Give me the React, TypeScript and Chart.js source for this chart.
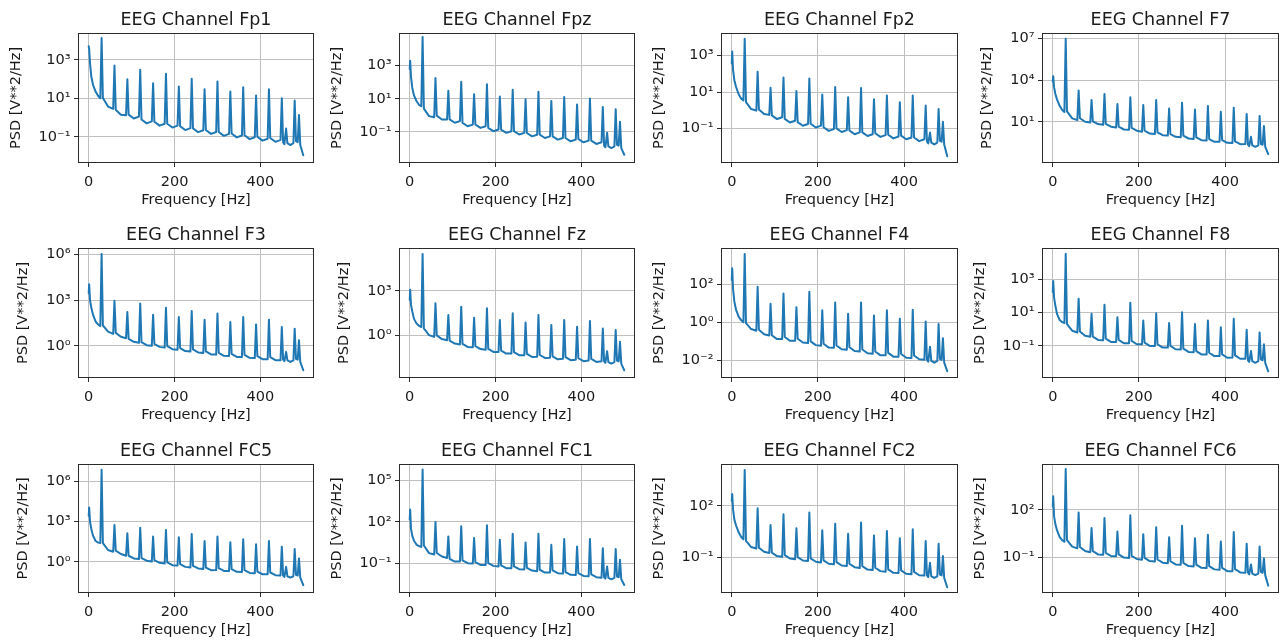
import React, { useEffect, useRef } from 'react';
import { Chart, registerables } from 'chart.js';

Chart.register(...registerables);

// ---------------- data (values are log10 of PSD) ----------------
const CHANNELS = ['Fp1', 'Fpz', 'Fp2', 'F7', 'F3', 'Fz', 'F4', 'F8', 'FC5', 'FC1', 'FC2', 'FC6'];

// frequencies of the line-noise harmonics (spike tops)
const PEAK_HZ = [30, 60, 90, 120, 150, 180, 210, 240, 270, 300, 330, 360, 390, 420, 450, 460, 480, 490];
// frequencies of the background (head decay, spike feet / troughs, tail)
const FLOOR_HZ = [
  0, 1, 3, 6, 10, 16, 22, 27,
  33, 45, 57, 63, 75, 87, 93, 105, 117, 123, 135, 147, 153, 165, 177, 183, 195, 207, 213, 225, 237,
  243, 255, 267, 273, 285, 297, 303, 315, 327, 333, 345, 357, 363, 375, 387, 393, 405, 417, 423, 435, 447,
  453, 456, 463, 470, 477, 483, 487, 493, 500,
];
const X_TICKS = [0, 200, 400];

const fp1Peak = [4.13, 2.70, 1.99, 2.48, 1.78, 2.27, 1.61, 2.01, 1.47, 1.87, 1.35, 1.57, 1.14, 1.47, 1.00, -0.57, 0.88, 0.13];
const fp1Floor = [
  3.70, 3.55, 2.83, 2.13, 1.70, 1.35, 1.12, 1.00,
  1.02, 0.57, 0.45, 0.40, 0.15, 0.12, 0.15, -0.05, 0.05, -0.10, -0.30, -0.20, -0.22, -0.42, -0.32, -0.32, -0.52, -0.42, -0.45, -0.65, -0.55,
  -0.56, -0.76, -0.66, -0.65, -0.85, -0.75, -0.75, -0.95, -0.85, -0.83, -1.03, -0.93, -0.92, -1.12, -1.02, -1.00, -1.20, -1.10, -1.06, -1.26, -1.16,
  -1.28, -1.38, -1.33, -1.43, -1.33, -1.23, -1.28, -1.43, -1.96,
];
const fpzPeak = [4.73, 2.25, 1.48, 2.03, 1.27, 1.88, 1.13, 1.54, 0.97, 1.42, 0.87, 1.11, 0.66, 1.01, 0.50, -1.06, 0.36, -0.39];
const fpzFloor = [
  2.80, 3.30, 2.30, 1.65, 1.20, 0.85, 0.62, 0.55,
  0.40, -0.05, -0.12, -0.02, -0.25, -0.25, -0.25, -0.45, -0.35, -0.46, -0.66, -0.56, -0.56, -0.76, -0.66, -0.76, -0.96, -0.86, -0.86, -1.06, -0.96,
  -0.96, -1.16, -1.06, -1.07, -1.27, -1.17, -1.17, -1.37, -1.27, -1.27, -1.47, -1.37, -1.37, -1.57, -1.47, -1.43, -1.63, -1.53, -1.53, -1.73, -1.63,
  -1.83, -1.93, -1.88, -1.98, -1.88, -1.78, -1.83, -1.98, -2.38,
];
const fp2Peak = [3.93, 2.11, 1.24, 1.80, 1.06, 1.74, 0.87, 1.28, 0.72, 1.22, 0.61, 0.81, 0.44, 0.81, 0.26, -1.22, 0.07, -0.63];
const fp2Floor = [
  2.57, 3.22, 2.20, 1.65, 1.28, 0.88, 0.64, 0.54,
  0.45, 0.07, -0.02, 0.05, -0.20, -0.25, -0.28, -0.48, -0.38, -0.47, -0.67, -0.57, -0.65, -0.85, -0.75, -0.74, -0.94, -0.84, -0.93, -1.13, -1.03,
  -0.99, -1.19, -1.09, -1.11, -1.31, -1.21, -1.21, -1.41, -1.31, -1.26, -1.46, -1.36, -1.34, -1.54, -1.44, -1.39, -1.59, -1.49, -1.49, -1.69, -1.59,
  -1.72, -1.82, -1.77, -1.87, -1.77, -1.67, -1.72, -1.87, -2.52,
];
const f7Peak = [7.00, 3.25, 2.57, 3.01, 2.28, 2.77, 2.21, 2.57, 1.96, 2.38, 1.89, 2.14, 1.72, 2.01, 1.56, -0.09, 1.41, 0.69];
const f7Floor = [
  3.90, 4.29, 3.50, 3.00, 2.60, 2.15, 1.85, 1.70,
  1.75, 1.24, 1.12, 1.25, 1.00, 0.95, 1.03, 0.83, 0.78, 0.84, 0.64, 0.58, 0.64, 0.44, 0.42, 0.55, 0.35, 0.28, 0.35, 0.15, 0.12,
  0.23, 0.03, 0.00, 0.11, -0.09, -0.12, -0.01, -0.21, -0.24, -0.13, -0.33, -0.36, -0.25, -0.45, -0.45, -0.32, -0.52, -0.54, -0.42, -0.62, -0.60,
  -0.66, -0.76, -0.71, -0.81, -0.71, -0.61, -0.66, -0.81, -1.34,
];
const f3Peak = [6.04, 2.96, 2.23, 2.78, 2.05, 2.51, 1.90, 2.29, 1.72, 2.12, 1.57, 1.90, 1.41, 1.72, 1.24, -0.40, 1.13, 0.37];
const f3Floor = [
  3.46, 4.06, 3.00, 2.50, 2.05, 1.60, 1.40, 1.30,
  1.35, 0.93, 0.78, 0.85, 0.60, 0.50, 0.46, 0.26, 0.20, 0.24, 0.04, 0.00, 0.13, -0.07, -0.12, -0.02, -0.22, -0.26, -0.15, -0.35, -0.38,
  -0.24, -0.44, -0.48, -0.37, -0.57, -0.58, -0.46, -0.66, -0.67, -0.53, -0.73, -0.74, -0.59, -0.79, -0.81, -0.68, -0.88, -0.89, -0.75, -0.95, -0.95,
  -0.91, -1.01, -0.96, -1.06, -0.96, -0.86, -0.91, -1.06, -1.61,
];
const fzPeak = [5.50, 2.16, 1.36, 1.93, 1.18, 1.82, 1.02, 1.48, 0.86, 1.36, 0.68, 1.02, 0.57, 0.95, 0.45, -1.09, 0.34, -0.45];
const fzFloor = [
  2.39, 3.07, 2.05, 1.60, 1.10, 0.78, 0.62, 0.55,
  0.45, 0.00, -0.12, -0.02, -0.27, -0.35, -0.37, -0.57, -0.63, -0.60, -0.80, -0.82, -0.75, -0.95, -1.00, -0.94, -1.14, -1.14, -1.05, -1.25, -1.25,
  -1.16, -1.36, -1.37, -1.28, -1.48, -1.46, -1.35, -1.55, -1.54, -1.44, -1.64, -1.60, -1.50, -1.70, -1.67, -1.57, -1.77, -1.72, -1.62, -1.82, -1.78,
  -1.78, -1.88, -1.83, -1.93, -1.83, -1.73, -1.78, -1.93, -2.39,
];
const f4Peak = [3.61, 1.88, 0.98, 1.52, 0.80, 1.61, 0.63, 1.04, 0.45, 1.04, 0.36, 0.63, 0.18, 0.66, 0.04, -1.29, -0.09, -0.84];
const f4Floor = [
  2.23, 2.86, 1.75, 1.10, 0.65, 0.30, 0.10, 0.00,
  -0.05, -0.36, -0.45, -0.40, -0.63, -0.70, -0.69, -0.89, -0.88, -0.78, -0.98, -0.98, -0.87, -1.07, -1.10, -1.01, -1.21, -1.24, -1.14, -1.34, -1.35,
  -1.23, -1.43, -1.45, -1.32, -1.52, -1.55, -1.44, -1.64, -1.67, -1.55, -1.75, -1.75, -1.62, -1.82, -1.82, -1.68, -1.88, -1.89, -1.76, -1.96, -1.98,
  -1.99, -2.09, -2.04, -2.14, -2.04, -1.94, -1.99, -2.14, -2.59,
];
const f8Peak = [4.52, 1.83, 0.92, 1.46, 0.72, 1.59, 0.52, 0.96, 0.37, 1.02, 0.31, 0.52, 0.11, 0.62, -0.03, -1.30, -0.19, -0.90];
const f8Floor = [
  2.23, 2.88, 1.90, 1.40, 0.90, 0.55, 0.42, 0.37,
  0.30, -0.09, -0.20, -0.14, -0.39, -0.45, -0.44, -0.64, -0.66, -0.56, -0.76, -0.76, -0.64, -0.84, -0.84, -0.70, -0.90, -0.90, -0.80, -1.00, -1.00,
  -0.90, -1.10, -1.10, -1.00, -1.20, -1.22, -1.16, -1.36, -1.38, -1.31, -1.51, -1.51, -1.41, -1.61, -1.61, -1.51, -1.71, -1.70, -1.57, -1.77, -1.77,
  -1.86, -1.96, -1.91, -2.01, -1.91, -1.81, -1.86, -2.01, -2.52,
];
const fc5Peak = [6.88, 2.75, 2.13, 2.55, 1.88, 2.38, 1.83, 2.08, 1.55, 1.88, 1.45, 1.68, 1.30, 1.55, 1.13, -0.38, 0.95, 0.25];
const fc5Floor = [
  3.43, 4.05, 3.00, 2.45, 1.95, 1.55, 1.43, 1.40,
  1.40, 0.88, 0.75, 0.83, 0.58, 0.45, 0.45, 0.25, 0.20, 0.28, 0.08, 0.02, 0.12, -0.08, -0.13, -0.05, -0.25, -0.28, -0.18, -0.38, -0.42,
  -0.30, -0.50, -0.54, -0.43, -0.63, -0.62, -0.48, -0.68, -0.68, -0.55, -0.75, -0.76, -0.63, -0.83, -0.85, -0.73, -0.93, -0.93, -0.80, -1.00, -1.02,
  -1.03, -1.13, -1.08, -1.18, -1.08, -0.98, -1.03, -1.18, -1.75,
];
const fc1Peak = [5.80, 2.00, 0.96, 1.69, 0.84, 1.76, 0.72, 1.15, 0.52, 1.15, 0.35, 0.77, 0.23, 0.77, 0.11, -1.22, 0.04, -0.73];
const fc1Floor = [
  2.17, 2.90, 1.50, 1.00, 0.65, 0.35, 0.25, 0.20,
  0.30, -0.25, -0.35, -0.24, -0.49, -0.60, -0.66, -0.86, -0.86, -0.78, -0.98, -1.00, -0.90, -1.10, -1.10, -0.97, -1.17, -1.22, -1.14, -1.34, -1.34,
  -1.21, -1.41, -1.43, -1.31, -1.51, -1.55, -1.45, -1.65, -1.65, -1.50, -1.70, -1.73, -1.62, -1.82, -1.83, -1.70, -1.90, -1.92, -1.79, -1.99, -2.02,
  -1.99, -2.09, -2.04, -2.14, -2.04, -1.94, -1.99, -2.14, -2.55,
];
const fc2Peak = [4.10, 1.86, 0.88, 1.51, 0.69, 1.61, 0.57, 0.96, 0.37, 1.02, 0.27, 0.53, 0.10, 0.63, -0.06, -1.33, -0.22, -0.94];
const fc2Floor = [
  2.29, 2.69, 1.80, 1.20, 0.85, 0.45, 0.18, 0.04,
  -0.05, -0.41, -0.50, -0.45, -0.69, -0.76, -0.74, -0.94, -0.98, -0.88, -1.08, -1.12, -1.00, -1.20, -1.22, -1.07, -1.27, -1.31, -1.19, -1.39, -1.42,
  -1.29, -1.49, -1.52, -1.39, -1.59, -1.64, -1.53, -1.73, -1.76, -1.62, -1.82, -1.85, -1.72, -1.92, -1.93, -1.78, -1.98, -2.00, -1.86, -2.06, -2.08,
  -2.07, -2.17, -2.12, -2.22, -2.12, -2.02, -2.07, -2.22, -2.76,
];
const fc6Peak = [4.56, 1.83, 0.85, 1.48, 0.64, 1.65, 0.47, 0.91, 0.28, 0.99, 0.22, 0.43, 0.01, 0.60, -0.14, -1.43, -0.31, -1.04];
const fc6Floor = [
  2.21, 2.84, 1.60, 1.10, 0.70, 0.28, 0.08, 0.00,
  0.10, -0.31, -0.42, -0.34, -0.59, -0.66, -0.60, -0.80, -0.82, -0.70, -0.90, -0.92, -0.80, -1.00, -1.02, -0.89, -1.09, -1.13, -1.02, -1.22, -1.24,
  -1.12, -1.32, -1.35, -1.23, -1.43, -1.45, -1.33, -1.53, -1.56, -1.44, -1.64, -1.66, -1.54, -1.74, -1.77, -1.65, -1.85, -1.86, -1.73, -1.93, -1.95,
  -1.95, -2.05, -2.00, -2.10, -2.00, -1.90, -1.95, -2.10, -2.76,
];

const PEAKS = [fp1Peak, fpzPeak, fp2Peak, f7Peak, f3Peak, fzPeak, f4Peak, f8Peak, fc5Peak, fc1Peak, fc2Peak, fc6Peak];
const FLOORS = [fp1Floor, fpzFloor, fp2Floor, f7Floor, f3Floor, fzFloor, f4Floor, f8Floor, fc5Floor, fc1Floor, fc2Floor, fc6Floor];

// y-axis limits (log10) and decade ticks shown on each panel
const Y_RANGE_EXP = [
  [-2.36, 4.39], [-2.88, 4.97], [-2.89, 4.24], [-1.98, 7.41],
  [-2.12, 6.44], [-2.91, 5.91], [-2.95, 3.93], [-2.92, 4.86],
  [-2.33, 7.30], [-3.13, 6.19], [-3.10, 4.45], [-3.20, 4.87],
];
const Y_TICK_EXP = [
  [-1, 1, 3], [-1, 1, 3], [-1, 1, 3], [1, 4, 7],
  [0, 3, 6], [0, 3], [-2, 0, 2], [-1, 1, 3],
  [0, 3, 6], [-1, 2, 5], [-1, 2], [-1, 2],
];

// ---------------- layout ----------------
const FONT = "'DejaVu Sans', sans-serif";
const COL_LEFT = [78, 399, 721, 1042];
const COL_WIDTH = [236, 236, 237, 237];
const ROW_TOP = [33, 248, 464];
const ROW_HEIGHT = [130, 130, 129];
const Y_AXIS_W = 75;
const TITLE_H = 28;
const X_AXIS_H = 46;
const RIGHT_PAD = 3;

const SUP: Record<string, string> = {
  '-': '\u207B', '0': '\u2070', '1': '\u00B9', '2': '\u00B2', '3': '\u00B3',
  '4': '\u2074', '5': '\u2075', '6': '\u2076', '7': '\u2077', '8': '\u2078', '9': '\u2079',
};
const sup = (n: number) => String(n).split('').map((c) => SUP[c]).join('');

Chart.defaults.font.family = FONT;

const framePlugin = {
  id: 'frame',
  afterDatasetsDraw(chart: any) {
    const { ctx, chartArea: a } = chart;
    ctx.save();
    ctx.strokeStyle = '#2b2b2b';
    ctx.lineWidth = 1;
    ctx.strokeRect(a.left + 0.5, a.top + 0.5, a.right - a.left - 1, a.bottom - a.top - 1);
    ctx.restore();
  },
};

const zeroPad = (s: any) => {
  s.paddingLeft = 0;
  s.paddingRight = 0;
  s.paddingTop = 0;
  s.paddingBottom = 0;
};

function Panel({ index }: { index: number }) {
  const ref = useRef<HTMLCanvasElement | null>(null);
  const row = Math.floor(index / 4);
  const col = index % 4;
  const boxLeft = COL_LEFT[col];
  const boxTop = ROW_TOP[row];
  const w = Y_AXIS_W + COL_WIDTH[col] + RIGHT_PAD;
  const h = TITLE_H + ROW_HEIGHT[row] + X_AXIS_H;

  useEffect(() => {
    const peaks = PEAKS[index];
    const floors = FLOORS[index];
    const pts = [
      ...FLOOR_HZ.map((x, i) => ({ x, y: Math.pow(10, floors[i]) })),
      ...PEAK_HZ.map((x, i) => ({ x, y: Math.pow(10, peaks[i]) })),
    ].sort((a, b) => a.x - b.x);
    const [lo, hi] = Y_RANGE_EXP[index];
    const tickExp = Y_TICK_EXP[index];
    const labelGap = tickExp.some((e) => e < 0) ? 62 : 55;
    const yTitlePad = Y_AXIS_W - labelGap - 8.7;

    const chart = new Chart(ref.current as HTMLCanvasElement, {
      type: 'line',
      data: {
        datasets: [
          {
            data: pts,
            borderColor: '#1f77b4',
            backgroundColor: '#1f77b4',
            borderWidth: 2,
            pointRadius: 0,
            tension: 0,
            borderJoinStyle: 'round',
            borderCapStyle: 'round',
            fill: false,
          },
        ],
      },
      options: {
        animation: false,
        responsive: false,
        devicePixelRatio: 1,
        events: [],
        layout: { padding: { left: 0, right: RIGHT_PAD, top: 0, bottom: 0 }, autoPadding: false },
        plugins: {
          legend: { display: false },
          tooltip: { enabled: false },
          title: {
            display: true,
            text: `EEG Channel ${CHANNELS[index]}`,
            fullSize: false,
            color: '#1a1a1a',
            font: { family: FONT, size: 17.5, weight: 'normal', lineHeight: 1.2 },
            padding: { top: 4.5, bottom: 2.5 },
          },
        },
        scales: {
          x: {
            type: 'linear',
            min: -25,
            max: 525,
            afterBuildTicks: (s: any) => {
              s.ticks = X_TICKS.map((v) => ({ value: v }));
            },
            afterFit: (s: any) => {
              s.height = X_AXIS_H;
              zeroPad(s);
            },
            border: { display: false },
            grid: { color: '#c0c0c0', lineWidth: 1, tickColor: '#2b2b2b', tickLength: 4, drawTicks: true },
            ticks: {
              color: '#1a1a1a',
              font: { family: FONT, size: 14.5, lineHeight: 1.2 },
              padding: 6.3,
              maxRotation: 0,
              autoSkip: false,
              callback: (v: any) => String(v),
            },
            title: {
              display: true,
              text: 'Frequency [Hz]',
              color: '#1a1a1a',
              font: { family: FONT, size: 14.5, lineHeight: 1.2 },
              padding: { top: 0, bottom: 0 },
            },
          },
          y: {
            type: 'logarithmic',
            min: Math.pow(10, lo),
            max: Math.pow(10, hi),
            afterBuildTicks: (s: any) => {
              s.ticks = tickExp.map((e) => ({ value: Math.pow(10, e) }));
            },
            afterFit: (s: any) => {
              s.width = Y_AXIS_W;
              zeroPad(s);
            },
            border: { display: false },
            grid: { color: '#c0c0c0', lineWidth: 1, tickColor: '#2b2b2b', tickLength: 4, drawTicks: true },
            ticks: {
              color: '#1a1a1a',
              font: { family: FONT, size: 14.5, lineHeight: 1.2 },
              padding: 3.5,
              autoSkip: false,
              callback: (v: any) => '10' + sup(Math.round(Math.log10(v))),
            },
            title: {
              display: true,
              text: 'PSD [V**2/Hz]',
              color: '#1a1a1a',
              font: { family: FONT, size: 14.5, lineHeight: 1.2 },
              padding: { top: yTitlePad, bottom: 0 },
            },
          },
        },
      },
      plugins: [framePlugin],
    } as any);
    return () => chart.destroy();
  }, [index]);

  return (
    <canvas
      ref={ref}
      width={w}
      height={h}
      style={{ position: 'absolute', left: boxLeft - Y_AXIS_W, top: boxTop - TITLE_H, width: w, height: h }}
    />
  );
}

export default function App() {
  return (
    <div
      style={{
        position: 'absolute',
        left: 0,
        top: 0,
        width: 1284,
        height: 644,
        background: '#ffffff',
        overflow: 'hidden',
      }}
    >
      {CHANNELS.map((_, i) => (
        <Panel key={i} index={i} />
      ))}
    </div>
  );
}
